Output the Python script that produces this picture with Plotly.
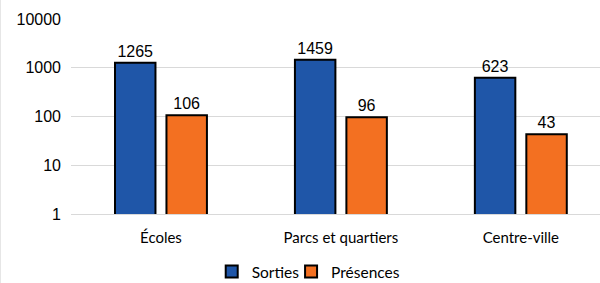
import plotly.graph_objects as go

categories = ["Écoles", "Parcs et quartiers", "Centre-ville"]
sorties = [1265, 1459, 623]
presences = [106, 96, 43]
y_ticks = [1, 10, 100, 1000, 10000]
y_tick_labels = ["1", "10", "100", "1000", "10000"]

label_font = dict(family="Liberation Sans, Arial", size=16, color="#000000")
legend_font = dict(family="Lato", size=15.5, color="#000000")

fig = go.Figure()
fig.add_trace(go.Bar(
    name="Sorties", x=categories, y=sorties, legend="legend",
    marker=dict(color="#1F56A8", line=dict(color="#000000", width=2)),
    text=[str(v) for v in sorties], textposition="outside",
    textfont=label_font, cliponaxis=False,
))
fig.add_trace(go.Bar(
    name="Présences", x=categories, y=presences, legend="legend2",
    marker=dict(color="#F37021", line=dict(color="#000000", width=2)),
    text=[str(v) for v in presences], textposition="outside",
    textfont=label_font, cliponaxis=False,
))
fig.update_layout(
    width=600, height=283,
    margin=dict(l=71, r=0, t=19, b=69, autoexpand=False),
    barmode="group", bargap=0.428, bargroupgap=0.2136,
    plot_bgcolor="white", paper_bgcolor="white",
    showlegend=True,
    legend=dict(orientation="h", x=0.266, xanchor="left", y=-0.21, yanchor="top",
                font=legend_font, itemwidth=30, bgcolor="rgba(0,0,0,0)"),
    legend2=dict(orientation="h", x=0.416, xanchor="left", y=-0.21, yanchor="top",
                 font=legend_font, itemwidth=30, bgcolor="rgba(0,0,0,0)"),
    xaxis=dict(tickfont=dict(family="Lato", size=15, color="#000000"),
               range=[-0.5, 2.44], ticklabelstandoff=10,
               showline=True, linecolor="#D9D9D9", linewidth=1, ticks=""),
    yaxis=dict(type="log", range=[0, 4], tickvals=y_ticks, ticktext=y_tick_labels,
               tickfont=dict(family="Liberation Sans, Arial", size=16, color="#000000"),
               ticklabelstandoff=9,
               showgrid=True, gridcolor="#D9D9D9", gridwidth=1, zeroline=False,
               ticks="", ticklen=0),
)
fig.add_shape(type="line", xref="paper", yref="paper", x0=-0.1333, x1=-0.1333, y0=-0.4, y1=1.1,
              line=dict(color="#E6E6E6", width=1))
fig.write_html("out.html", config={"displayModeBar": False},
               post_script="document.body.style.margin='0';document.body.style.overflow='hidden';")
